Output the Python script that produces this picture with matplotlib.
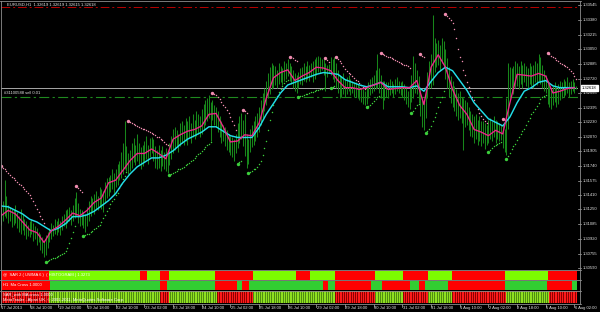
import numpy as np
import matplotlib
matplotlib.use("Agg")
import matplotlib.pyplot as plt
from matplotlib.transforms import blended_transform_factory as blend

plt.rcParams['font.family'] = ['Liberation Sans', 'DejaVu Sans']

# ---------------- data ----------------
chart_title = "EURUSD,H1  1.32619 1.32619 1.32615 1.32618"
last_price = 1.32618
order_label = "#31100588 sell 0.01"
order_price = 1.32511
stop_price = 1.33523

# H1 bars, 17 Jul 2013 18:00 ... 6 Aug 2013
bar_low = [
    1.3108, 1.3112, 1.3118, 1.3115, 1.3110, 1.3112, 1.3105, 1.3108, 1.3110, 1.3104,
    1.3100, 1.3098, 1.3102, 1.3096, 1.3092, 1.3095, 1.3094, 1.3098, 1.3090, 1.3092,
    1.3085, 1.3088, 1.3080, 1.3076, 1.3072, 1.3074, 1.3082, 1.3088, 1.3092, 1.3095,
    1.3098, 1.3096, 1.3100, 1.3096, 1.3102, 1.3106, 1.3104, 1.3110, 1.3112, 1.3108,
    1.3112, 1.3116, 1.3118, 1.3110, 1.3106, 1.3108, 1.3104, 1.3100, 1.3106, 1.3112,
    1.3118, 1.3122, 1.3120, 1.3126, 1.3124, 1.3128, 1.3126, 1.3122, 1.3132, 1.3138,
    1.3140, 1.3145, 1.3148, 1.3142, 1.3150, 1.3152, 1.3158, 1.3160, 1.3165, 1.3170,
    1.3168, 1.3165, 1.3168, 1.3172, 1.3178, 1.3175, 1.3180, 1.3176, 1.3170, 1.3174,
    1.3178, 1.3182, 1.3176, 1.3184, 1.3188, 1.3180, 1.3172, 1.3170, 1.3172, 1.3168,
    1.3174, 1.3170, 1.3168, 1.3166, 1.3175, 1.3182, 1.3188, 1.3192, 1.3195, 1.3190,
    1.3196, 1.3200, 1.3198, 1.3202, 1.3198, 1.3205, 1.3200, 1.3206, 1.3204, 1.3208,
    1.3210, 1.3206, 1.3210, 1.3214, 1.3220, 1.3225, 1.3228, 1.3202, 1.3226, 1.3220,
    1.3218, 1.3212, 1.3206, 1.3200, 1.3202, 1.3196, 1.3192, 1.3190, 1.3186, 1.3184,
    1.3180, 1.3188, 1.3194, 1.3200, 1.3204, 1.3196, 1.3185, 1.3172, 1.3176, 1.3190,
    1.3195, 1.3198, 1.3202, 1.3206, 1.3212, 1.3220, 1.3228, 1.3236, 1.3242, 1.3250,
    1.3255, 1.3260, 1.3262, 1.3265, 1.3262, 1.3266, 1.3268, 1.3265, 1.3270, 1.3272,
    1.3275, 1.3270, 1.3266, 1.3262, 1.3258, 1.3256, 1.3262, 1.3266, 1.3265, 1.3270,
    1.3268, 1.3272, 1.3270, 1.3274, 1.3268, 1.3272, 1.3276, 1.3280, 1.3278, 1.3282,
    1.3276, 1.3258, 1.3274, 1.3278, 1.3276, 1.3272, 1.3268, 1.3262, 1.3256, 1.3250,
    1.3252, 1.3255, 1.3252, 1.3255, 1.3258, 1.3254, 1.3256, 1.3252, 1.3252, 1.3250,
    1.3248, 1.3246, 1.3244, 1.3242, 1.3244, 1.3250, 1.3254, 1.3256, 1.3258, 1.3260,
    1.3262, 1.3256, 1.3250, 1.3238, 1.3248, 1.3252, 1.3250, 1.3254, 1.3256, 1.3252,
    1.3255, 1.3258, 1.3256, 1.3254, 1.3252, 1.3248, 1.3244, 1.3240, 1.3238, 1.3246,
    1.3250, 1.3256, 1.3255, 1.3245, 1.3230, 1.3218, 1.3214, 1.3228, 1.3250, 1.3262,
    1.3262, 1.3265, 1.3280, 1.3285, 1.3288, 1.3282, 1.3290, 1.3285, 1.3272, 1.3262,
    1.3252, 1.3245, 1.3240, 1.3236, 1.3230, 1.3226, 1.3228, 1.3222, 1.3192, 1.3218,
    1.3220, 1.3214, 1.3208, 1.3206, 1.3200, 1.3204, 1.3198, 1.3202, 1.3196, 1.3200,
    1.3193, 1.3198, 1.3200, 1.3204, 1.3202, 1.3206, 1.3200, 1.3204, 1.3202, 1.3203,
    1.3194, 1.3190, 1.3186, 1.3215, 1.3250, 1.3258, 1.3255, 1.3262, 1.3264, 1.3260,
    1.3266, 1.3262, 1.3268, 1.3264, 1.3260, 1.3266, 1.3264, 1.3262, 1.3268, 1.3265,
    1.3270, 1.3266, 1.3262, 1.3258, 1.3256, 1.3244, 1.3240, 1.3238, 1.3242, 1.3246,
    1.3240, 1.3244, 1.3248, 1.3250, 1.3252, 1.3254, 1.3256, 1.3252, 1.3255, 1.3258,
    1.3256, 1.3260,
]
bar_high = [
    1.3128, 1.3135, 1.3158, 1.3140, 1.3130, 1.3128, 1.3126, 1.3124, 1.3130, 1.3122,
    1.3118, 1.3125, 1.3120, 1.3114, 1.3112, 1.3108, 1.3112, 1.3114, 1.3110, 1.3106,
    1.3104, 1.3100, 1.3098, 1.3094, 1.3090, 1.3096, 1.3100, 1.3104, 1.3110, 1.3108,
    1.3114, 1.3112, 1.3115, 1.3112, 1.3118, 1.3120, 1.3124, 1.3126, 1.3128, 1.3124,
    1.3130, 1.3138, 1.3145, 1.3132, 1.3126, 1.3124, 1.3122, 1.3120, 1.3128, 1.3134,
    1.3140, 1.3138, 1.3142, 1.3146, 1.3140, 1.3150, 1.3148, 1.3146, 1.3156, 1.3160,
    1.3162, 1.3164, 1.3170, 1.3166, 1.3170, 1.3176, 1.3180, 1.3190, 1.3200, 1.3224,
    1.3196, 1.3188, 1.3192, 1.3200, 1.3205, 1.3198, 1.3210, 1.3200, 1.3195, 1.3198,
    1.3202, 1.3208, 1.3198, 1.3205, 1.3206, 1.3204, 1.3196, 1.3192, 1.3198, 1.3192,
    1.3196, 1.3190, 1.3194, 1.3188, 1.3200, 1.3208, 1.3215, 1.3218, 1.3214, 1.3210,
    1.3222, 1.3225, 1.3220, 1.3228, 1.3224, 1.3230, 1.3222, 1.3232, 1.3226, 1.3236,
    1.3232, 1.3230, 1.3238, 1.3244, 1.3248, 1.3250, 1.3254, 1.3246, 1.3248, 1.3242,
    1.3240, 1.3236, 1.3230, 1.3224, 1.3220, 1.3218, 1.3214, 1.3210, 1.3208, 1.3206,
    1.3204, 1.3210, 1.3222, 1.3230, 1.3233, 1.3226, 1.3232, 1.3210, 1.3204, 1.3215,
    1.3220, 1.3224, 1.3230, 1.3234, 1.3240, 1.3248, 1.3256, 1.3262, 1.3270, 1.3278,
    1.3285, 1.3290, 1.3288, 1.3286, 1.3282, 1.3290, 1.3286, 1.3284, 1.3292, 1.3290,
    1.3294, 1.3290, 1.3286, 1.3282, 1.3278, 1.3276, 1.3280, 1.3284, 1.3285, 1.3290,
    1.3286, 1.3292, 1.3288, 1.3290, 1.3292, 1.3294, 1.3296, 1.3298, 1.3296, 1.3294,
    1.3294, 1.3290, 1.3288, 1.3289, 1.3296, 1.3294, 1.3296, 1.3290, 1.3282, 1.3276,
    1.3275, 1.3278, 1.3272, 1.3274, 1.3276, 1.3272, 1.3270, 1.3268, 1.3268, 1.3266,
    1.3264, 1.3262, 1.3260, 1.3258, 1.3264, 1.3268, 1.3272, 1.3274, 1.3276, 1.3282,
    1.3300, 1.3284, 1.3276, 1.3270, 1.3270, 1.3268, 1.3268, 1.3272, 1.3270, 1.3266,
    1.3272, 1.3274, 1.3270, 1.3268, 1.3270, 1.3266, 1.3262, 1.3258, 1.3262, 1.3276,
    1.3298, 1.3290, 1.3282, 1.3275, 1.3262, 1.3250, 1.3246, 1.3262, 1.3280, 1.3292,
    1.3300, 1.3344, 1.3318, 1.3312, 1.3316, 1.3310, 1.3318, 1.3314, 1.3305, 1.3295,
    1.3285, 1.3275, 1.3270, 1.3264, 1.3260, 1.3256, 1.3258, 1.3252, 1.3250, 1.3248,
    1.3246, 1.3240, 1.3236, 1.3232, 1.3230, 1.3232, 1.3226, 1.3230, 1.3224, 1.3224,
    1.3222, 1.3220, 1.3226, 1.3228, 1.3224, 1.3230, 1.3226, 1.3224, 1.3222, 1.3220,
    1.3220, 1.3215, 1.3250, 1.3290, 1.3285, 1.3284, 1.3286, 1.3292, 1.3290, 1.3286,
    1.3292, 1.3288, 1.3290, 1.3286, 1.3284, 1.3290, 1.3286, 1.3288, 1.3292, 1.3290,
    1.3300, 1.3296, 1.3288, 1.3282, 1.3276, 1.3270, 1.3266, 1.3262, 1.3264, 1.3268,
    1.3262, 1.3266, 1.3270, 1.3268, 1.3272, 1.3270, 1.3274, 1.3268, 1.3270, 1.3272,
    1.3268, 1.3264,
]
# Parabolic SAR, one value per bar
sar = [
    1.3174, 1.3172, 1.3170, 1.3168, 1.3166, 1.3164, 1.3162, 1.3160, 1.3158, 1.3156, 1.3154, 1.3152, 1.3150,
    1.3148, 1.3146, 1.3144, 1.3141, 1.3138, 1.3134, 1.3130, 1.3126, 1.3122, 1.3118, 1.3114, 1.3110,
    1.3066, 1.3067, 1.3068, 1.3069, 1.3070, 1.3071, 1.3072, 1.3073, 1.3074, 1.3075, 1.3076, 1.3078,
    1.3082, 1.3087, 1.3093, 1.3100, 1.3106,
    1.3151, 1.3149, 1.3147, 1.3145,
    1.3095, 1.3096, 1.3097, 1.3098, 1.3100, 1.3101, 1.3103, 1.3104, 1.3106, 1.3108, 1.3111, 1.3115,
    1.3119, 1.3123, 1.3127, 1.3131, 1.3134, 1.3137, 1.3141, 1.3144, 1.3149, 1.3154, 1.3159, 1.3163, 1.3167,
    1.3224, 1.3223, 1.3222, 1.3221, 1.3220, 1.3219, 1.3218, 1.3217, 1.3216, 1.3215, 1.3214, 1.3213,
    1.3212, 1.3211, 1.3210, 1.3209, 1.3207, 1.3206, 1.3204, 1.3203, 1.3201, 1.3199, 1.3197,
    1.3164, 1.3165, 1.3166, 1.3167, 1.3168, 1.3170, 1.3171, 1.3172, 1.3173, 1.3175, 1.3176, 1.3177,
    1.3179, 1.3181, 1.3183, 1.3185, 1.3187, 1.3189, 1.3191, 1.3193, 1.3195, 1.3197, 1.3199, 1.3201,
    1.3256, 1.3255, 1.3254, 1.3252, 1.3249, 1.3246, 1.3243, 1.3240, 1.3237, 1.3233, 1.3229, 1.3225,
    1.3220, 1.3214,
    1.3176, 1.3178, 1.3180,
    1.3237, 1.3236, 1.3234,
    1.3166, 1.3167, 1.3168, 1.3170, 1.3171, 1.3173, 1.3176, 1.3180, 1.3186, 1.3194, 1.3202, 1.3214,
    1.3226, 1.3235, 1.3242, 1.3249, 1.3253, 1.3257, 1.3260, 1.3264, 1.3267, 1.3269, 1.3271,
    1.3297, 1.3296, 1.3295, 1.3293, 1.3292,
    1.3252, 1.3253, 1.3253, 1.3254, 1.3255, 1.3255, 1.3256, 1.3257, 1.3257, 1.3258, 1.3259, 1.3259,
    1.3260, 1.3261, 1.3262,
    1.3295, 1.3293, 1.3291,
    1.3262, 1.3263, 1.3264,
    1.3296, 1.3294, 1.3292, 1.3290, 1.3286, 1.3283, 1.3281, 1.3279, 1.3277, 1.3275, 1.3273, 1.3271,
    1.3269, 1.3267, 1.3265, 1.3263, 1.3261,
    1.3240, 1.3241, 1.3243, 1.3245, 1.3247, 1.3249, 1.3251, 1.3253,
    1.3301, 1.3300, 1.3299, 1.3298, 1.3297, 1.3296, 1.3295, 1.3294, 1.3293, 1.3292, 1.3291, 1.3290,
    1.3289, 1.3288, 1.3287, 1.3286, 1.3284,
    1.3234, 1.3236, 1.3239, 1.3242, 1.3244,
    1.3300, 1.3298, 1.3296,
    1.3211, 1.3213, 1.3216, 1.3219, 1.3224, 1.3229, 1.3234, 1.3240, 1.3246, 1.3252, 1.3258,
    1.3345, 1.3343, 1.3340, 1.3338, 1.3335, 1.3328, 1.3318, 1.3306, 1.3297, 1.3292, 1.3282, 1.3276,
    1.3268, 1.3263, 1.3258, 1.3252, 1.3248, 1.3243, 1.3238, 1.3234, 1.3230, 1.3227, 1.3224, 1.3222,
    1.3190, 1.3192, 1.3194, 1.3196, 1.3197, 1.3199, 1.3200, 1.3201,
    1.3227, 1.3226,
    1.3182, 1.3185, 1.3189, 1.3193, 1.3196, 1.3199, 1.3203, 1.3207, 1.3210, 1.3213, 1.3216, 1.3220,
    1.3224, 1.3228, 1.3232, 1.3235, 1.3238, 1.3241, 1.3245, 1.3249, 1.3251, 1.3253, 1.3254,
    1.3301, 1.3300, 1.3298, 1.3296, 1.3295, 1.3293, 1.3292, 1.3290, 1.3289, 1.3288, 1.3286, 1.3285,
    1.3283, 1.3281, 1.3278, 1.3275, 1.3272,
]
# moving averages, read every 4th bar
ma_bars = list(range(0, 321, 4))
ma_fast = [
    1.3118, 1.3124, 1.3120, 1.3111, 1.3102, 1.3099, 1.3088, 1.3101, 1.3106, 1.3113,
    1.3121, 1.3118, 1.3124, 1.3133, 1.3138, 1.3155, 1.3158, 1.3169, 1.3180, 1.3188,
    1.3188, 1.3193, 1.3188, 1.3182, 1.3204, 1.3209, 1.3213, 1.3215, 1.3219, 1.3232,
    1.3233, 1.3218, 1.3201, 1.3202, 1.3209, 1.3208, 1.3222, 1.3250, 1.3273, 1.3279,
    1.3282, 1.3270, 1.3275, 1.3279, 1.3285, 1.3284, 1.3281, 1.3270, 1.3262, 1.3262,
    1.3260, 1.3262, 1.3265, 1.3268, 1.3260, 1.3261, 1.3262, 1.3262, 1.3270, 1.3243,
    1.3285, 1.3299, 1.3285, 1.3260, 1.3242, 1.3232, 1.3215, 1.3212, 1.3208, 1.3214,
    1.3210, 1.3245, 1.3277, 1.3276, 1.3275, 1.3278, 1.3275, 1.3256, 1.3258, 1.3261, 1.3262,
]
ma_slow = [
    1.3129, 1.3128, 1.3124, 1.3120, 1.3114, 1.3111, 1.3106, 1.3101, 1.3104, 1.3109,
    1.3117, 1.3117, 1.3119, 1.3123, 1.3129, 1.3135, 1.3143, 1.3155, 1.3165, 1.3173,
    1.3178, 1.3183, 1.3183, 1.3186, 1.3191, 1.3198, 1.3204, 1.3208, 1.3212, 1.3218,
    1.3218, 1.3213, 1.3208, 1.3206, 1.3206, 1.3206, 1.3217, 1.3232, 1.3244, 1.3256,
    1.3265, 1.3268, 1.3271, 1.3274, 1.3277, 1.3279, 1.3278, 1.3277, 1.3271, 1.3268,
    1.3265, 1.3263, 1.3265, 1.3268, 1.3263, 1.3263, 1.3263, 1.3262, 1.3264, 1.3258,
    1.3269, 1.3279, 1.3285, 1.3281, 1.3270, 1.3259, 1.3245, 1.3236, 1.3227, 1.3223,
    1.3219, 1.3229, 1.3245, 1.3258, 1.3262, 1.3268, 1.3270, 1.3264, 1.3262, 1.3262, 1.3262,
]
price_ticks = [1.33545, 1.33380, 1.33215, 1.33050, 1.32885, 1.32720, 1.32555, 1.32395, 1.32230,
               1.32070, 1.31905, 1.31740, 1.31575, 1.31410, 1.31250, 1.31085, 1.30920, 1.30755,
               1.30590]
time_labels = ["17 Jul 2013", "18 Jul 10:00", "19 Jul 02:00", "19 Jul 18:00", "22 Jul 10:00",
               "23 Jul 02:00", "23 Jul 18:00", "24 Jul 10:00", "25 Jul 02:00", "25 Jul 18:00",
               "26 Jul 10:00", "29 Jul 02:00", "29 Jul 18:00", "30 Jul 10:00", "31 Jul 02:00",
               "31 Jul 18:00", "1 Aug 10:00", "2 Aug 02:00", "2 Aug 18:00", "5 Aug 10:00",
               "6 Aug 02:00"]
time_label_bars = list(range(0, 321, 16))

# sub-window indicator states (0 = red / sell, 1 = green / buy) between switch bars
sar2_label = "@  SAR 2 ( UWMA 6 )  ( HISTOGRAM ) 1.3273"
sar2_switch = [0, 27, 78, 82, 89, 94, 120, 141, 165, 173, 187, 209, 225, 239, 252, 282, 306, 322]
sar2_state = [0, 1, 0, 1, 0, 1, 0, 1, 0, 1, 0, 1, 0, 1, 0, 1, 0]
macross_label = "H1  Ma Cross 1.0000"
macross_switch = [0, 28, 89, 93, 120, 132, 135, 139, 180, 183, 187, 207, 213, 229, 234, 237, 250,
                  282, 305, 319, 322]
macross_state = [0, 1, 0, 1, 0, 1, 0, 1, 0, 1, 0, 1, 0, 1, 0, 1, 0, 1, 0, 1]
sarma_label = "SAR_with MA cross 1.0000"
copyright_label = "MetaTrader - Alpari UK, \u00a9 2001-2011, MetaQuotes Software Corp."
sarma_switch = [0, 27, 89, 94, 121, 141, 187, 209, 225, 239, 252, 282, 306, 322]
sarma_state = [0, 1, 0, 1, 0, 1, 0, 1, 0, 1, 0, 1, 0]

# ---------------- layout ----------------
W, H = 600, 312
fig = plt.figure(figsize=(W / 100, H / 100), dpi=100, facecolor='black')
XLIM = (-0.3, 322.0)
YLIM = (1.30581, 1.33583)
FS = 3.0
TXT = '#e6e6e6'


def px_axes(x0, y0, x1, y1):
    ax = fig.add_axes([x0 / W, 1 - y1 / H, (x1 - x0) / W, (y1 - y0) / H])
    ax.set_xlim(*XLIM)
    ax.set_axis_off()
    return ax


main = px_axes(0.5, 2, 578, 269)
main.set_ylim(*YLIM)

n = min(len(bar_low), len(bar_high))
xb = np.arange(n)
lo = np.array(bar_low[:n])
hi = np.array(bar_high[:n])
main.vlines(xb, lo, hi, color='#17861a', lw=0.75, zorder=2)

ns = min(len(sar), n)
xs = np.arange(ns)
sv = np.array(sar[:ns])
above = sv > (lo[:ns] + hi[:ns]) / 2
start = np.r_[True, above[1:] != above[:-1]]
main.scatter(xs[above], sv[above], s=1.1, color='#f08cb0', linewidths=0, zorder=3)
main.scatter(xs[~above], sv[~above], s=1.1, color='#3ccf3c', linewidths=0, zorder=3)
main.scatter(xs[start & above], sv[start & above], s=6, color='#f08cb0', linewidths=0, zorder=3)
main.scatter(xs[start & ~above], sv[start & ~above], s=6, color='#3ccf3c', linewidths=0, zorder=3)

m = min(len(ma_bars), len(ma_fast), len(ma_slow))
main.plot(ma_bars[:m], ma_slow[:m], color='#22dde8', lw=1.05, zorder=4)
main.plot(ma_bars[:m], ma_fast[:m], color='#f0248a', lw=0.95, zorder=5)

main.axhline(stop_price, color='#b80000', lw=0.7, ls=(0, (9, 3, 2, 3)), zorder=1)
main.axhline(last_price, color='#a8a8a8', lw=0.7, zorder=1)
main.axhline(order_price, color='#1f8a1f', lw=0.8, ls=(0, (9, 3, 2, 3)), zorder=1)

tr_y = blend(main.transAxes, main.transData)
px = 1 / 577.5
for v in price_ticks:
    main.plot([1.0, 1.0 + 3 * px], [v, v], color='#b0b0b0', lw=0.5, transform=tr_y, clip_on=False)
    main.text(1.0 + 4.5 * px, v, f"{v:.5f}", transform=tr_y, fontsize=FS, color=TXT,
              va='center', ha='left', clip_on=False)
main.text(1.0 + 4.0 * px, last_price, f"{last_price:.5f}", transform=tr_y, fontsize=FS,
          color='black', va='center', ha='left', clip_on=False, zorder=10,
          bbox=dict(boxstyle='square,pad=0.25', facecolor='white', edgecolor='white'))

fig.text(7 / W, 1 - 4.8 / H, chart_title, fontsize=FS, color=TXT, va='center', ha='left')
fig.text(4 / W, 1 - 93.5 / H, order_label, fontsize=FS, color=TXT, va='center', ha='left')

# ---------------- sub windows ----------------
colors_sar2 = {0: '#ff0000', 1: '#7cfc00'}
colors_cross = {0: '#ff0000', 1: '#32cd32'}
dark_sarma = {0: '#8a0000', 1: '#4d8a10'}
bright_sarma = {0: '#ff1a1a', 1: '#8fe020'}

sub1 = px_axes(0.5, 270.6, 578, 279.5)
sub2 = px_axes(0.5, 281.0, 578, 289.9)
sub3 = px_axes(0.5, 291.4, 578, 303.0)
for ax, sw, st, cmap in [(sub1, sar2_switch, sar2_state, colors_sar2),
                         (sub2, macross_switch, macross_state, colors_cross),
                         (sub3, sarma_switch, sarma_state, dark_sarma)]:
    ax.set_ylim(0, 1)
    for k, s in enumerate(st):
        ax.axvspan(sw[k] - 0.5, sw[k + 1] - 0.5, color=cmap[s], lw=0)

per_bar = np.repeat(sarma_state, np.diff(sarma_switch))
xp = np.arange(len(per_bar))
for s in (0, 1):
    sel = per_bar == s
    sub3.vlines(xp[sel], 0, 1, color=bright_sarma[s], lw=0.75)

fig.text(3 / W, 1 - 275.0 / H, sar2_label, fontsize=FS, color='white', va='center', ha='left')
fig.text(3 / W, 1 - 285.4 / H, macross_label, fontsize=FS, color='white', va='center', ha='left')
fig.text(3 / W, 1 - 294.8 / H, sarma_label, fontsize=FS, color='white', va='center', ha='left')
fig.text(3 / W, 1 - 299.6 / H, copyright_label, fontsize=FS, color='white', va='center', ha='left')

# ---------------- time axis ----------------
tr_x = blend(sub3.transData, fig.transFigure)
for b, lab in zip(time_label_bars, time_labels):
    sub3.plot([b, b], [1 - 304 / H, 1 - 306.5 / H], color='#b0b0b0', lw=0.5,
              transform=tr_x, clip_on=False)
    sub3.text(b + 0.2, 1 - 307.8 / H, lab, transform=tr_x, fontsize=FS, color=TXT,
              va='center', ha='left', clip_on=False)

# ---------------- frame lines ----------------
ov = fig.add_axes([0, 0, 1, 1])
ov.set_xlim(0, W)
ov.set_ylim(H, 0)
ov.set_axis_off()
gc = '#8e8e8e'
lw = 0.6
ov.plot([0, 580.5], [1, 1], color=gc, lw=lw)
ov.plot([1, 1], [1, 304], color=gc, lw=lw)
ov.plot([580, 580], [1, 304], color=gc, lw=lw)
ov.plot([0, 580.5], [304, 304], color=gc, lw=lw)
for yy in (270, 280.3, 290.7):
    ov.plot([0, 580.5], [yy, yy], color=gc, lw=lw)

fig.savefig('out.png', dpi=100, facecolor='black')
